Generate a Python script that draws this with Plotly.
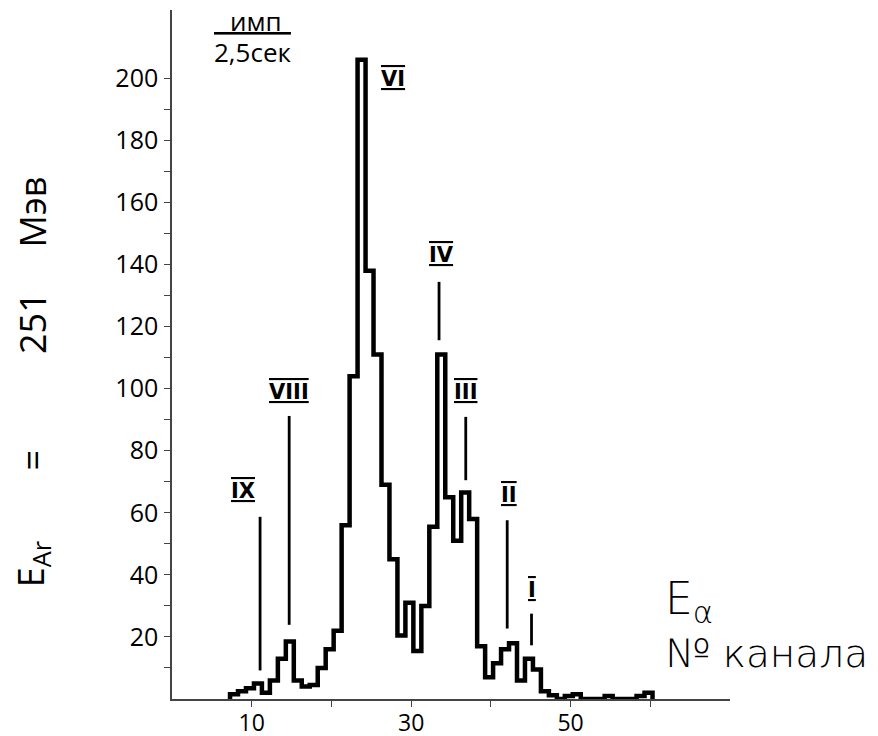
import plotly.graph_objects as go

# ---- data ----
channels = list(range(8, 61))
counts = [1.5, 2.5, 3.5, 5, 2, 6, 13, 18.5, 6, 4,
          4.5, 10, 16, 22, 56, 104, 206, 138, 111, 69,
          45, 20.5, 31, 15.5, 30, 55.5, 111, 65, 51, 66.5,
          58, 17, 7, 11.5, 16, 18, 6, 13, 9.5, 2.5,
          1.2, 0, 1, 1.5, 0, 0, 0, 1, 0, 0,
          0, 1, 2]

peak_names = ["IX", "VIII", "VI", "IV", "III", "II", "I"]
peak_line_ch = [11.05, 14.7, None, 33.5, 36.85, 42.05, 45.1]
peak_line_lo = [9.2, 23.9, None, 115.6, 70.5, 22.7, 17.3]
peak_line_hi = [58.7, 91.2, None, 134.4, 90.9, 57.6, 27.5]
peak_label_x = [8.9, 14.65, 27.7, 33.85, 36.85, 42.25, 45.1]
peak_label_y = [67.1, 98.9, 199.8, 143.0, 99.0, 65.7, 35.0]

x_tickvals = [10, 20, 30, 40, 50, 60]
x_ticktext = ["10", "", "30", "", "50", ""]
y_tickvals = list(range(10, 201, 10))
y_ticktext = [str(v) if v % 20 == 0 else "" for v in y_tickvals]

BIN_SHIFT = -0.22  # bin alignment in the reference

# step outline of the histogram
xs, ys = [], []
for c, v in zip(channels, counts):
    left = c - 0.5 + BIN_SHIFT
    xs += [left, left + 1]
    ys += [v, v]
xs = [xs[0]] + xs + [xs[-1]]
ys = [0] + ys + [0]

FONT = "Open Sans"
WIDE = "DejaVu Sans"

fig = go.Figure()
fig.add_trace(go.Scatter(x=xs, y=ys, mode="lines",
                         line=dict(color="black", width=4.5),
                         hoverinfo="skip", showlegend=False))

# peak marker lines
for ch, lo, hi in zip(peak_line_ch, peak_line_lo, peak_line_hi):
    if ch is None:
        continue
    fig.add_trace(go.Scatter(x=[ch, ch], y=[lo, hi], mode="lines",
                             line=dict(color="black", width=2.8),
                             hoverinfo="skip", showlegend=False))

annotations = []
for name, lx, ly in zip(peak_names, peak_label_x, peak_label_y):
    annotations.append(dict(
        x=lx, y=ly, xref="x", yref="y", showarrow=False,
        text="<span style='text-decoration:overline underline'>%s</span>" % name,
        font=dict(family="DejaVu Sans", size=21, color="black", weight="bold")))

# unit label
annotations.append(dict(x=0.15, y=0.984, xref="paper", yref="paper", showarrow=False,
                        text="имп", yanchor="middle", xanchor="center",
                        font=dict(family=FONT, size=26, color="black")))
annotations.append(dict(x=0.145, y=0.939, xref="paper", yref="paper", showarrow=False,
                        text="<span style='text-decoration:overline'>2,5сек</span>",
                        yanchor="middle", xanchor="center",
                        font=dict(family=FONT, size=26, color="black")))

# right-side axis captions
annotations.append(dict(x=0.88, y=0.142, xref="paper", yref="paper", showarrow=False,
                        text="E<sub>α</sub>", xanchor="left", yanchor="middle",
                        font=dict(family=WIDE, size=44, color="black", weight=200)))
annotations.append(dict(x=0.88, y=0.066, xref="paper", yref="paper", showarrow=False,
                        text="№ канала", xanchor="left", yanchor="middle",
                        font=dict(family=WIDE, size=39, color="black", weight=200)))

# left rotated title
left_parts = [("E<sub>Ar</sub>", 0.195), ("=", 0.347), ("251", 0.545), ("Мэв", 0.707)]
for txt, yp in left_parts:
    annotations.append(dict(x=-0.25, y=yp, xref="paper", yref="paper", showarrow=False,
                            text=txt, textangle=-90, xanchor="center", yanchor="middle",
                            font=dict(family=FONT, size=36, color="black")))

# the page body has an 8px margin: the figure is sized/margined to compensate
fig.update_layout(
    width=870, height=728,
    margin=dict(l=164, r=147.5, t=2, b=37.3, autoexpand=False),
    paper_bgcolor="white", plot_bgcolor="white",
    showlegend=False,
    annotations=annotations,
    xaxis=dict(range=[0, 70], tickvals=x_tickvals, ticktext=x_ticktext,
               ticks="outside", ticklen=6, tickcolor="#444", tickwidth=1.2,
               showline=True, linecolor="#444", linewidth=1.5,
               showgrid=False, zeroline=False, automargin=False,
               ticklabelstandoff=-3,
               tickfont=dict(family=FONT, size=23, color="black")),
    yaxis=dict(range=[0, 222], tickvals=y_tickvals, ticktext=y_ticktext,
               ticks="outside", ticklen=6, tickcolor="#444", tickwidth=1.2,
               showline=True, linecolor="#444", linewidth=1.5,
               showgrid=False, zeroline=False, ticklabelstandoff=1, automargin=False,
               tickfont=dict(family=FONT, size=25, color="black")),
)

fig.write_html("out.html")
